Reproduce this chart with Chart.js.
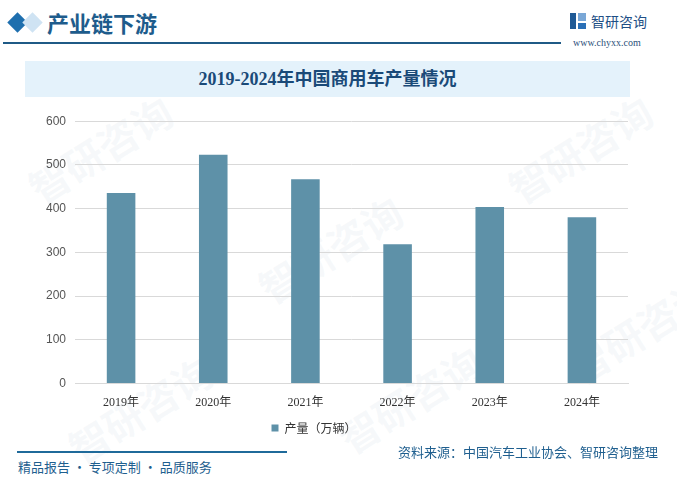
<!DOCTYPE html>
<html><head><meta charset="utf-8">
<script src="https://cdn.jsdelivr.net/npm/chart.js@4"></script>
<style>
html,body{margin:0;padding:0;background:#fff;}
#wrap{position:relative;width:677px;height:489px;overflow:hidden;background:#fff;font-family:"Noto Sans CJK SC",sans-serif;}
.abs{position:absolute;}
.wm{position:absolute;color:rgba(190,205,220,0.13);font-size:40px;font-weight:bold;transform:rotate(-32deg);white-space:nowrap;font-family:"Noto Sans CJK SC";}
</style></head>
<body>
<div id="wrap">
  <div class="wm" style="left:20px;top:120px;">智研咨询</div>
  <div class="wm" style="left:250px;top:220px;">智研咨询</div>
  <div class="wm" style="left:500px;top:120px;">智研咨询</div>
  <div class="wm" style="left:60px;top:380px;">智研咨询</div>
  <div class="wm" style="left:330px;top:370px;">智研咨询</div>
  <div class="wm" style="left:560px;top:300px;">智研咨询</div>

  <div class="abs" style="left:9px;top:14px;width:17px;height:17px;background:#1e6fae;transform:rotate(45deg) scale(0.85);"></div>
  <div class="abs" style="left:24px;top:14px;width:17px;height:17px;background:#cfe3f3;transform:rotate(45deg) scale(0.85);"></div>
  <div class="abs" style="left:47px;top:8px;font-size:22px;color:#1e5c8c;font-weight:bold;line-height:28px;">产业链下游</div>
  <div class="abs" style="left:3px;top:42px;width:558px;height:2px;background:#1f5a86;"></div>
  <div class="abs" style="left:570px;top:13px;width:16px;height:16px;">
    <div class="abs" style="left:0;top:0;width:6px;height:16px;background:#1f5a96;"></div>
    <div class="abs" style="left:8px;top:0;width:8px;height:8px;background:#7aa7d6;"></div>
    <div class="abs" style="left:8px;top:10px;width:8px;height:6px;background:#2a6fb6;"></div>
  </div>
  <div class="abs" style="left:591px;top:11px;font-size:14px;color:#1e4f86;line-height:20px;">智研咨询</div>
  <div class="abs" style="left:573px;top:37px;font-size:10px;color:#2b4f7a;font-family:'Liberation Serif';line-height:12px;">www.chyxx.com</div>

  <div class="abs" style="left:25px;top:61px;width:605px;height:36px;background:#e4f2fb;"></div>
  <div class="abs" style="left:25px;top:61px;width:605px;height:36px;line-height:36px;text-align:center;font-size:18px;font-weight:bold;color:#1a4a78;font-family:'Liberation Serif','Noto Sans CJK SC';">2019-2024年中国商用车产量情况</div>

  <canvas id="c" class="abs" style="left:0;top:105px;" width="677" height="341"></canvas>

  <div class="abs" style="left:17px;top:451px;width:270px;height:2px;background:#1f6a9a;"></div>
  <div class="abs" style="left:18px;top:457px;font-size:13px;color:#1f5f8f;line-height:20px;">精品报告 · 专项定制 · 品质服务</div>
  <div class="abs" style="left:398px;top:442px;font-size:13px;color:#1f5f8f;line-height:20px;">资料来源：中国汽车工业协会、智研咨询整理</div>
</div>
<script>
const categories = ["2019年","2020年","2021年","2022年","2023年","2024年"];
const seriesName = "产量（万辆）";
const production = [436.0, 523.1, 467.4, 318.5, 403.7, 380.5];
const yTicks = [0,100,200,300,400,500,600];

new Chart(document.getElementById('c'), {
  type: 'bar',
  data: {
    labels: categories,
    datasets: [{
      label: seriesName,
      data: production,
      backgroundColor: '#5e91a8',
      barPercentage: 0.62,
      categoryPercentage: 0.5
    }]
  },
  options: {
    responsive: false,
    animation: false,
    layout: { padding: { top: 12, right: 49, left: 0, bottom: 2 } },
    plugins: {
      tooltip: { enabled: false },
      legend: {
        position: 'bottom',
        labels: {
          usePointStyle: true, pointStyle: 'rect', boxWidth: 7, boxHeight: 7,
          color: '#333', font: { size: 12, family: "'Noto Sans CJK SC'" }, padding: 8
        }
      }
    },
    scales: {
      x: {
        grid: { display: false },
        border: { display: true, color: '#d9d9d9' },
        ticks: { color: '#333', font: { size: 12, family: "'Liberation Serif','Noto Sans CJK SC'" }, padding: 4 }
      },
      y: {
        min: 0, max: 600,
        afterBuildTicks: (s) => { s.ticks = yTicks.map(v => ({ value: v })); },
        afterFit: (s) => { s.width = 75; },
        grid: { color: '#d9d9d9', drawTicks: false },
        border: { display: false },
        ticks: { color: '#555', font: { size: 12, family: "'Liberation Sans'" }, padding: 9 }
      }
    }
  }
});
</script>
</body></html>
